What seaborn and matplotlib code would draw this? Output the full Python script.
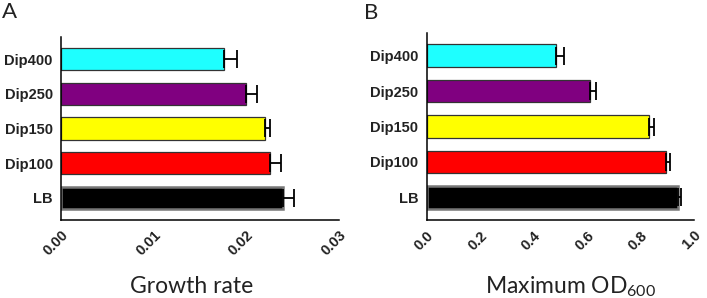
import matplotlib
matplotlib.use("Agg")
import matplotlib.pyplot as plt
import seaborn as sns
import pandas as pd
import numpy as np

# data
conditions = ["Dip400", "Dip250", "Dip150", "Dip100", "LB"]
bar_colors = ["#1EFFFF", "#800080", "#FFFF00", "#FF0000", "#000000"]

growth_rate = [0.0176, 0.0200, 0.0220, 0.0226, 0.0240]
growth_err = [0.0014, 0.0012, 0.0006, 0.0011, 0.0011]

max_od = [0.485, 0.613, 0.831, 0.896, 0.940]
max_od_err = [0.027, 0.022, 0.021, 0.015, 0.012]

growth_ticks = [0.00, 0.01, 0.02, 0.03]
od_ticks = [0.0, 0.2, 0.4, 0.6, 0.8, 1.0]

sns.set_style("white")
plt.rcParams.update({
    'font.family': ['Liberation Sans', 'DejaVu Sans'],
    'mathtext.default': 'regular',
    'axes.linewidth': 1.1,
    'xtick.major.width': 1.1,
    'ytick.major.width': 1.1,
    'xtick.major.size': 4,
    'ytick.major.size': 4,
    'xtick.direction': 'out',
    'ytick.direction': 'out',
})


def hbar_panel(ax, values, errors, ticks, tick_fmt, xlabel, letter, letter_x):
    df = pd.DataFrame({"condition": conditions, "value": values})
    sns.barplot(data=df, x="value", y="condition", hue="condition",
                palette=bar_colors, saturation=1, orient="h", errorbar=None,
                width=0.64, edgecolor="#333333", linewidth=0.9, legend=False,
                ax=ax)
    # thicker grey outline on the LB bar like the original
    ax.patches[-1].set_edgecolor("#777777")
    ax.patches[-1].set_linewidth(1.8)

    pos = np.arange(len(conditions))
    ax.errorbar(values, pos, xerr=[np.zeros(len(errors)), errors],
                fmt="none", ecolor="black", elinewidth=1.3, capsize=6.5,
                capthick=1.3, zorder=3)

    ax.set_xlim(ticks[0], ticks[-1])
    ax.set_ylim(len(conditions) - 1 + 0.64, -0.64)
    ax.set_xticks(ticks)
    ax.set_xticklabels([tick_fmt.format(t) for t in ticks], rotation=45,
                       ha="right", rotation_mode="anchor",
                       fontsize=10.5, fontweight="bold", color="#222222")
    for lab in ax.get_yticklabels():
        lab.set_fontsize(10.5)
        lab.set_fontweight("bold")
        lab.set_color("#222222")
    ax.tick_params(axis="both", pad=2, colors="black", labelcolor="#222222")
    ax.set_ylabel("")
    ax.set_xlabel(xlabel, fontsize=16.5, family=["Lato", "DejaVu Sans"],
                  color="#222222")
    ax.xaxis.set_label_coords(0.47, -0.305)
    sns.despine(ax=ax)
    for s in ["left", "bottom"]:
        ax.spines[s].set_color("black")
    ax.text(letter_x, 1.19, letter, transform=ax.transAxes, fontsize=16,
            family=["Lato", "DejaVu Sans"], va="top", ha="left",
            color="#222222")


fig = plt.figure(figsize=(7.07, 2.98), dpi=100)
ax1 = fig.add_axes([0.0863, 0.262, 0.3932, 0.614])
ax2 = fig.add_axes([0.6035, 0.262, 0.378, 0.627])

hbar_panel(ax1, growth_rate, growth_err, growth_ticks, "{:.2f}",
           "Growth rate", "A", -0.212)
hbar_panel(ax2, max_od, max_od_err, od_ticks, "{:.1f}",
           "Maximum OD$_{600}$", "B", -0.236)
ax2.xaxis.set_label_coords(0.54, -0.29)
ax2.texts[0].set_position((-0.236, 1.16))

fig.savefig("out.png", dpi=100)
plt.close(fig)
